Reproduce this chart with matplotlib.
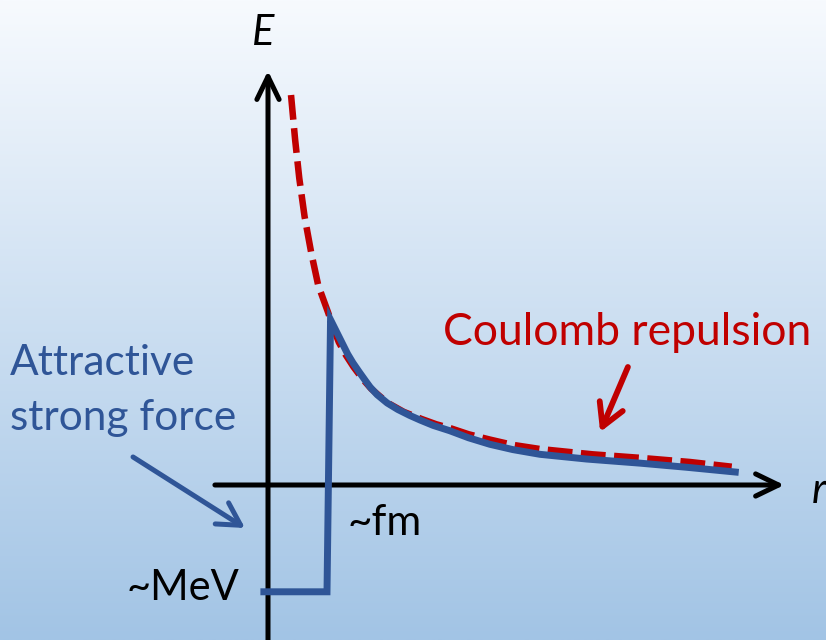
import matplotlib.pyplot as plt
import numpy as np

plt.rcParams['font.family'] = ['Lato', 'DejaVu Sans']

# Coulomb repulsion (dashed red): r in ~fm, E in arbitrary units
coulomb_r = [0.39, 0.46, 0.53, 0.62, 0.73, 0.85, 1.02, 1.10, 1.20, 1.32, 1.45, 1.60,
             1.75, 1.90, 2.05, 2.30, 2.60, 2.85, 3.10, 3.40, 3.76, 4.15, 4.61, 5.50,
             6.31, 7.15, 7.86]
coulomb_E = [6.61, 5.85, 5.20, 4.55, 3.95, 3.39, 2.92, 2.68, 2.42, 2.20, 2.00, 1.80,
             1.63, 1.50, 1.38, 1.24, 1.12, 1.03, 0.96, 0.86, 0.77, 0.68, 0.61, 0.52,
             0.46, 0.39, 0.31]

# Total potential (solid blue): square well then Coulomb tail
total_r = [-0.07, 1.00, 1.06, 1.15, 1.25, 1.35, 1.44, 1.55, 1.65, 1.73, 1.85, 2.02,
           2.20, 2.40, 2.58, 2.80, 3.08, 3.40, 3.76, 4.15, 4.61, 5.40, 6.31, 7.10, 7.92]
total_E = [-1.81, -1.81, 2.80, 2.62, 2.42, 2.22, 2.07, 1.91, 1.77, 1.66, 1.53, 1.39,
           1.28, 1.18, 1.10, 1.01, 0.92, 0.80, 0.69, 0.60, 0.52, 0.44, 0.37, 0.30, 0.22]

blue = '#2F5597'
red = '#C00000'

fig = plt.figure(figsize=(8.26, 6.40), dpi=100)
ax = fig.add_axes([0, 0, 1, 1])
x0, x1 = -268 / 59, (826 - 268) / 59
y0, y1 = -(640 - 485) / 59, 485 / 59
ax.set_xlim(x0, x1)
ax.set_ylim(y0, y1)
ax.axis('off')

# background gradient, light at the top, blue at the bottom
top = np.array([247, 250, 254]) / 255
bottom = np.array([162, 196, 229]) / 255
t = np.linspace(0, 1, 256)[:, None]
grad = (top * (1 - t) + bottom * t)[:, None, :]
ax.imshow(grad, extent=(x0, x1, y0, y1), aspect='auto', zorder=0, origin='upper')

# axes with open arrowheads
head = '->,head_length=16.5,head_width=8'
ax.annotate('', xy=(0, 7.02), xytext=(0, y0 - 0.2),
            arrowprops=dict(arrowstyle=head, lw=3.6, color='black', mutation_scale=1,
                            shrinkA=0, shrinkB=0, joinstyle='round'), zorder=2)
ax.annotate('', xy=(8.75, 0), xytext=(-0.9, 0),
            arrowprops=dict(arrowstyle=head, lw=3.6, color='black', mutation_scale=1,
                            shrinkA=0, shrinkB=0, joinstyle='round'), zorder=2)

ax.plot(coulomb_r, coulomb_E, color=red, lw=4.7, dashes=(3.8, 1.3),
        dash_capstyle='butt', zorder=3)
ax.plot(total_r, total_E, color=blue, lw=5, solid_joinstyle='miter', zorder=4)

# labels
ax.text(-0.27, 7.46, 'E', fontsize=30, style='italic', ha='left', va='baseline')
ax.text(9.22, -0.305, 'r', fontsize=30, style='italic', ha='left', va='baseline')
ax.text(2.966, 2.373, 'Coulomb repulsion', fontsize=32, color=red, ha='left', va='baseline')
ax.text(-4.373, 1.864, 'Attractive', fontsize=30.5, color=blue, ha='left', va='baseline')
ax.text(-4.373, 0.932, 'strong force', fontsize=30.5, color=blue, ha='left', va='baseline')
ax.text(1.339, -0.847, '~fm', fontsize=30.5, ha='left', va='baseline')
ax.text(-2.39, -1.949, '~MeV', fontsize=30, ha='left', va='baseline')

small_head = '->,head_length=16,head_width=9'
ax.annotate('', xy=(-0.39, -0.729), xytext=(-2.288, 0.475),
            arrowprops=dict(arrowstyle=small_head, lw=3.6, color=blue, mutation_scale=1,
                            shrinkA=0, shrinkB=0, capstyle='round', joinstyle='round'))
ax.annotate('', xy=(5.63, 0.898), xytext=(6.10, 2.0),
            arrowprops=dict(arrowstyle=small_head, lw=4.2, color=red, mutation_scale=1,
                            shrinkA=0, shrinkB=0, capstyle='round', joinstyle='round'))

fig.savefig('out.png', dpi=100)
